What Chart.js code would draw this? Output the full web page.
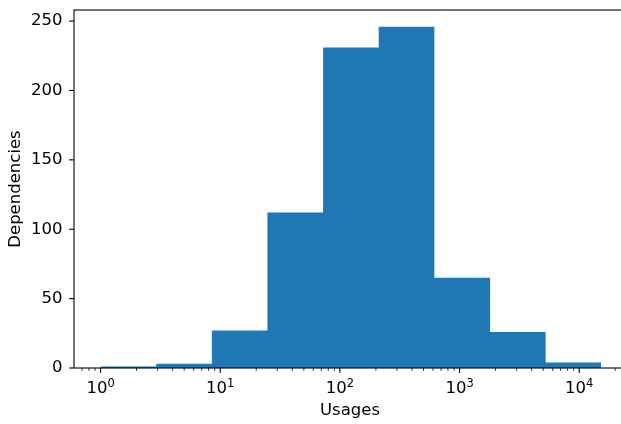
<!DOCTYPE html>
<html>
<head>
<meta charset="utf-8">
<script src="https://cdn.jsdelivr.net/npm/chart.js@4"></script>
<style>
  html, body { margin: 0; padding: 0; background: #fff; }
  #wrap { width: 621px; height: 424px; overflow: hidden; position: relative; }
  #usageHist { display: block; }
</style>
</head>
<body>
<div id="wrap"><canvas id="usageHist" width="640" height="424"></canvas></div>
<script>
  // histogram bins (log spaced)
  const binEdges = [1, 2.92, 8.51, 24.8, 72.4, 211, 616, 1800, 5240, 15200];
  const binCounts = [1, 3, 27, 112, 231, 246, 65, 26, 4];

  const xMajorTicks = [1, 10, 100, 1000, 10000];
  const xTickExponents = ['0', '1', '2', '3', '4'];
  const yTicks = [0, 50, 100, 150, 200, 250];

  const xMin = 0.618, xMax = 24600;
  const yMax = 258;

  const barColor = '#1f77b4';
  const fontFamily = "'DejaVu Sans', sans-serif";
  const labelSize = 16.5;

  // stepped line filled down to zero = histogram bars
  const histPoints = binEdges.map((edge, i) => ({ x: edge, y: binCounts[Math.min(i, binCounts.length - 1)] }));

  // spines, matplotlib style major/minor ticks, 10^n labels
  const axesPlugin = {
    id: 'axesPlugin',
    afterDraw(chart) {
      const ctx = chart.ctx;
      const area = chart.chartArea;
      const xs = chart.scales.x;
      const ys = chart.scales.y;
      ctx.save();
      ctx.strokeStyle = '#000';
      ctx.lineWidth = 1.1;
      ctx.strokeRect(area.left, area.top, area.right - area.left, area.bottom - area.top);

      for (let p = -1; p <= 4; p++) {
        for (let m = 1; m <= 9; m++) {
          const v = m * Math.pow(10, p);
          if (v < xMin || v > xMax) continue;
          const px = xs.getPixelForValue(v);
          ctx.lineWidth = m === 1 ? 1.1 : 0.8;
          ctx.beginPath();
          ctx.moveTo(px, area.bottom);
          ctx.lineTo(px, area.bottom + (m === 1 ? 4.9 : 2.8));
          ctx.stroke();
        }
      }
      ctx.lineWidth = 1.1;
      yTicks.forEach(v => {
        const py = ys.getPixelForValue(v);
        ctx.beginPath();
        ctx.moveTo(area.left, py);
        ctx.lineTo(area.left - 4.9, py);
        ctx.stroke();
      });

      // x tick labels as 10 with raised exponent
      ctx.fillStyle = '#000';
      ctx.textBaseline = 'alphabetic';
      ctx.textAlign = 'left';
      xMajorTicks.forEach((v, i) => {
        const px = xs.getPixelForValue(v);
        ctx.font = labelSize + 'px ' + fontFamily;
        const wBase = ctx.measureText('10').width;
        ctx.font = '11.5px ' + fontFamily;
        const wExp = ctx.measureText(xTickExponents[i]).width;
        const x0 = px - (wBase + wExp) / 2;
        ctx.font = labelSize + 'px ' + fontFamily;
        ctx.fillText('10', x0, area.bottom + 25);
        ctx.font = '11.5px ' + fontFamily;
        ctx.fillText(xTickExponents[i], x0 + wBase, area.bottom + 18.5);
      });
      ctx.restore();
    }
  };

  const usageHist = new Chart(document.getElementById('usageHist'), {
    type: 'line',
    data: {
      datasets: [{
        label: 'Dependencies',
        data: histPoints,
        stepped: 'before',
        fill: 'origin',
        backgroundColor: barColor,
        borderColor: 'rgba(0,0,0,0)',
        borderWidth: 0,
        pointRadius: 0,
        pointHoverRadius: 0
      }]
    },
    options: {
      responsive: false,
      animation: false,
      devicePixelRatio: 1,
      layout: { padding: { top: 10, right: 14, left: 0, bottom: 0 } },
      plugins: { legend: { display: false }, tooltip: { enabled: false } },
      scales: {
        x: {
          type: 'logarithmic',
          min: xMin,
          max: xMax,
          grid: { display: false, drawTicks: false },
          border: { display: false },
          afterBuildTicks: (scale) => { scale.ticks = xMajorTicks.map(v => ({ value: v })); },
          afterFit: (scale) => {
            scale.height = 56;
            scale.paddingLeft = 0;
            scale.paddingRight = 0;
          },
          ticks: { display: false },
          title: {
            display: true,
            text: 'Usages',
            color: '#000',
            font: { family: fontFamily, size: labelSize },
            padding: { top: 0, bottom: 3 }
          }
        },
        y: {
          min: 0,
          max: yMax,
          grid: { display: false, drawTicks: false },
          border: { display: false },
          afterBuildTicks: (scale) => { scale.ticks = yTicks.map(v => ({ value: v })); },
          afterFit: (scale) => {
            scale.width = 74;
            scale.paddingTop = 0;
            scale.paddingBottom = 0;
          },
          ticks: {
            padding: 11.5,
            color: '#000',
            font: { family: fontFamily, size: labelSize }
          },
          title: {
            display: true,
            text: 'Dependencies',
            color: '#000',
            font: { family: fontFamily, size: labelSize },
            padding: { top: 6, bottom: 0 }
          }
        }
      }
    },
    plugins: [axesPlugin]
  });
</script>
</body>
</html>
